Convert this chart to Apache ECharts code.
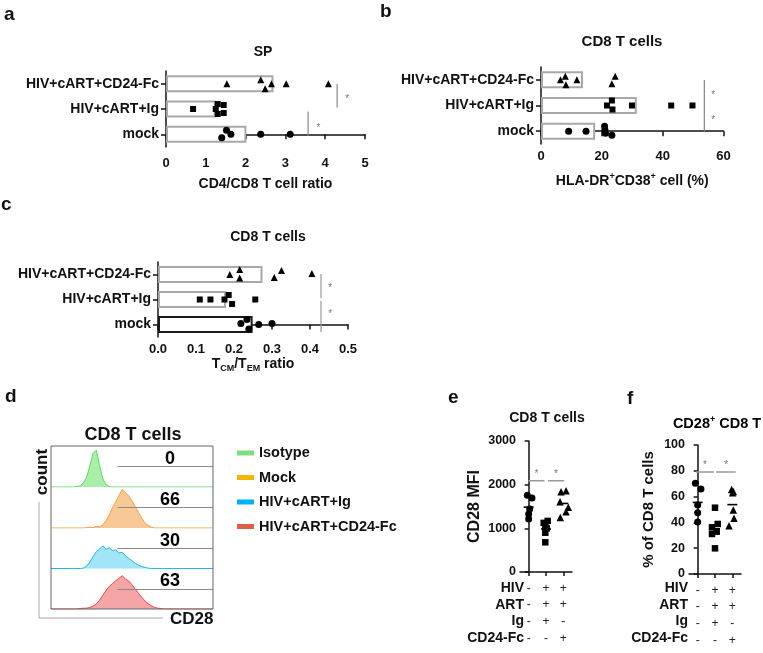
<!DOCTYPE html>
<html><head><meta charset="utf-8">
<script src="https://cdn.jsdelivr.net/npm/echarts@6/dist/echarts.min.js"></script>
<style>html,body{margin:0;padding:0;background:#fff}#c{width:763px;height:653px}</style>
</head><body><div id="c"></div>
<script>
const FONT = '"Liberation Sans", Arial, Helvetica, sans-serif';

// ================= DATA =================
const groupCats = ['mock', 'HIV+cART+Ig', 'HIV+cART+CD24-Fc']; // bottom -> top

// panel a : CD4/CD8 ratio (SP)
const aBarValues = [2.02, 1.25, 2.70];
const aMock = [1.40, 1.52, 1.63, 2.38, 3.12];
const aIg   = [0.68, 1.25, 1.30, 1.30, 1.45, 1.45];
const aCD24 = [1.53, 2.38, 2.49, 2.65, 3.02, 4.08];

// panel b : HLA-DR+CD38+ (%)
const bBarValues = [17.8, 31.5, 13.8];
const bMock = [9.1, 14.8, 20.9, 21.0, 21.2, 23.3];
const bIg   = [21.7, 23.3, 23.5, 29.9, 42.8, 49.8];
const bCD24 = [6.4, 8.0, 8.2, 11.8, 23.3, 24.4];

// panel c : TCM/TEM ratio
const cBarValues = [0.249, 0.179, 0.275];
const cMock = [0.218, 0.234, 0.239, 0.265, 0.300];
const cIg   = [0.110, 0.138, 0.175, 0.186, 0.195, 0.256];
const cCD24 = [0.189, 0.215, 0.215, 0.306, 0.325, 0.405];

// panel d : CD28 histograms
const histNames = ['Isotype', 'Mock', 'HIV+cART+Ig', 'HIV+cART+CD24-Fc'];
const histBins = [0, 12, 14, 16, 18, 20, 22, 24, 26, 28, 30, 32, 34, 36, 38, 40, 42, 44, 46, 48, 50, 52, 54, 56, 58, 60, 62, 64, 66, 68, 70, 100];
const histIsotype = [0, 0, 0, 1, 3, 10, 24, 52, 82, 90, 52, 20, 6, 1, 0, 0, 0, 0, 0, 0, 0, 0, 0, 0, 0, 0, 0, 0, 0, 0, 0, 0];
const histMock    = [0, 0, 0, 0, 0, 0, 1, 2, 1, 4, 3, 8, 18, 33, 50, 64, 80, 94, 86, 78, 66, 52, 38, 24, 13, 6, 2, 0, 0, 0, 0, 0];
const histIg      = [0, 0, 0, 0, 0, 1, 6, 16, 30, 42, 48, 56, 47, 52, 44, 46, 38, 40, 31, 25, 19, 13, 8, 5, 3, 1, 0, 0, 0, 0, 0, 0];
const histCD24    = [0, 0, 0, 0, 1, 2, 2, 4, 7, 13, 22, 34, 46, 56, 63, 70, 76, 82, 74, 69, 60, 49, 39, 29, 20, 13, 8, 4, 2, 1, 0, 0];
const gatePercent = ['0', '66', '30', '63'];

// panel e / f : columns and treatment table
const tableRowNames = ['HIV', 'ART', 'Ig', 'CD24-Fc'];
const tableSigns = [
  ['-', '+', '+'],
  ['-', '+', '+'],
  ['-', '+', '-'],
  ['-', '-', '+']
];
const eMock = [1756, 1694, 1441, 1326, 1211];
const eIg   = [1170, 1125, 1035, 1000, 900, 680];
const eCD24 = [1839, 1862, 1609, 1480, 1250, 1379];
const fMock = [70.3, 65.9, 53.5, 47.5, 40.3];
const fIg   = [51.4, 38.8, 36.2, 32.8, 31.0, 19.9];
const fCD24 = [65.5, 64.0, 63.0, 49.6, 43.2, 37.4];

// ================= STYLE / LAYOUT =================
const jit = {
  aMock: [3.5, -4, 0, 0, 0], aIg: [0, 0, -5, 5, -4, 4], aCD24: [0, -4, 5, 0, 0, 0],
  bMock: [0, 0, -5, -1.5, 2, 4], bIg: [0, -5, 4, 0, 0, 0], bCD24: [0, -3.5, 5, 0, 4, -3.5],
  cMock: [-1, -5, 4.5, 0, -1], cIg: [0, 0, 0, -4.5, 4.5, 0], cCD24: [0, -5, 3.5, 3, -4, -1],
  eMock: [-1.3, 3.3, 1, 0, 0], eIg: [1.7, -2.3, -0.7, 0.7, -0.7, -0.7], eCD24: [-2.3, 2.7, -3.3, 5, -3, 2.7],
  fMock: [-2.3, 3.3, 0, 0, 0], fIg: [0, 2.7, -3, 1.7, -3, 0], fCD24: [-0.7, 1, 0.3, 1, 1.7, -3.3]
};
const histLine = ['#5fd85f', '#f0a048', '#1cb8ec', '#e44848'];
const histFill = ['#aaeeaa', '#f8c996', '#a2e5f8', '#f5a5a5'];
const legendColor = ['#7ddf7d', '#f2b600', '#00b0f0', '#de5e48'];

const bold = { fontFamily: FONT, fontWeight: 'bold', color: '#111' };
const axisLineS = { show: true, lineStyle: { color: '#111', width: 1.5 } };
const axisTickS = (len) => ({ show: true, length: len, lineStyle: { color: '#111', width: 1.5 } });
const clear = { color: 'rgba(0,0,0,0)', opacity: 1 };

function valX(gi, max, interval, name, nameGap, margin, fmt, rich) {
  return {
    type: 'value', gridIndex: gi, min: 0, max, interval,
    axisLine: axisLineS, axisTick: axisTickS(5), splitLine: { show: false },
    axisLabel: { ...bold, fontSize: 13, margin, formatter: fmt },
    name, nameLocation: 'middle', nameGap,
    nameTextStyle: { ...bold, fontSize: 14, rich }
  };
}
function catY(gi) {
  return {
    type: 'category', gridIndex: gi, data: groupCats,
    axisLine: axisLineS, axisTick: { ...axisTickS(5), alignWithLabel: true },
    axisLabel: { ...bold, fontSize: 14, margin: 7 }
  };
}
function hidden(gi) { return { type: 'value', gridIndex: gi, min: -0.5, max: 2.5, show: false }; }

const series = [];
function barS(xi, yi, vals, dark) {
  series.push({
    type: 'bar', xAxisIndex: xi, yAxisIndex: yi, barWidth: 17, silent: true,
    data: vals.map((v, k) => ({
      value: v,
      itemStyle: (dark && k === 0) ? { color: '#fff', borderColor: '#1a1a1a', borderWidth: 2 }
                                    : { color: '#fff', borderColor: '#a8a8a8', borderWidth: 2 }
    }))
  });
}
function dotsH(xi, yi, vals, cat, symbol, size, j) {
  series.push({
    type: 'scatter', xAxisIndex: xi, yAxisIndex: yi, symbol, symbolSize: size, silent: true,
    itemStyle: { color: '#000', opacity: 1 },
    data: vals.map((v, k) => ({ value: [v, cat], symbolOffset: [0, j[k] || 0] }))
  });
}
function dotsV(xi, yi, vals, cat, symbol, size, j) {
  series.push({
    type: 'scatter', xAxisIndex: xi, yAxisIndex: yi, symbol, symbolSize: size, silent: true,
    itemStyle: { color: '#000', opacity: 1 },
    data: vals.map((v, k) => ({ value: [cat, v], symbolOffset: [j[k] || 0, 0] }))
  });
}
function seg(xi, yi, p1, p2, color, w) {
  series.push({
    type: 'line', xAxisIndex: xi, yAxisIndex: yi, symbol: 'none', silent: true,
    lineStyle: { color, width: w }, data: [p1, p2], z: 1
  });
}
function star(xi, yi, p) {
  series.push({
    type: 'scatter', xAxisIndex: xi, yAxisIndex: yi, symbolSize: 1, silent: true,
    itemStyle: clear,
    label: { show: true, position: 'inside', formatter: '*', fontFamily: FONT, fontSize: 10, color: '#777', offset: [0, 2] },
    data: [p]
  });
}
const mean = (a) => a.reduce((s, v) => s + v, 0) / a.length;

// ---- a ----
barS(0, 0, aBarValues, false);
dotsH(0, 0, aMock, 0, 'circle', 7, jit.aMock);
dotsH(0, 0, aIg, 1, 'rect', 6, jit.aIg);
dotsH(0, 0, aCD24, 2, 'triangle', 7, jit.aCD24);
seg(0, 1, [4.30, 1.99], [4.30, 1.06], '#888', 1.2); star(0, 1, [4.55, 1.45]);
seg(0, 1, [3.57, 0.90], [3.57, -0.07], '#888', 1.2); star(0, 1, [3.83, 0.32]);
// ---- b ----
barS(1, 2, bBarValues, false);
dotsH(1, 2, bMock, 0, 'circle', 7, jit.bMock);
dotsH(1, 2, bIg, 1, 'rect', 6, jit.bIg);
dotsH(1, 2, bCD24, 2, 'triangle', 7, jit.bCD24);
seg(1, 3, [53.7, 1.99], [53.7, 0.0], '#888', 1.2);
star(1, 3, [56.6, 1.49]); star(1, 3, [56.6, 0.51]);
// ---- c ----
barS(2, 4, cBarValues, true);
dotsH(2, 4, cMock, 0, 'circle', 7, jit.cMock);
dotsH(2, 4, cIg, 1, 'rect', 6, jit.cIg);
dotsH(2, 4, cCD24, 2, 'triangle', 7, jit.cCD24);
seg(2, 5, [0.429, 2.02], [0.429, 1.05], '#999', 1.2);
seg(2, 5, [0.429, 0.95], [0.429, -0.3], '#999', 1.2);
star(2, 5, [0.453, 1.54]); star(2, 5, [0.453, 0.50]);
// ---- d ----
const histData = [histIsotype, histMock, histIg, histCD24];
histData.forEach((h, i) => {
  series.push({
    name: histNames[i], type: 'line', xAxisIndex: 3 + i, yAxisIndex: 6 + i,
    symbol: 'none', silent: true,
    itemStyle: { color: legendColor[i] },
    lineStyle: { color: histLine[i], width: 1 },
    areaStyle: { color: histFill[i], opacity: 1 },
    data: histBins.map((x, k) => [x, h[k]]),
    markLine: {
      silent: true, symbol: 'none', animation: false,
      lineStyle: { color: '#8a8a8a', width: 1, type: 'solid' },
      label: { show: false },
      data: [[{ coord: [41, 50] }, { coord: [100, 50] }]]
    }
  });
  series.push({
    type: 'scatter', xAxisIndex: 3 + i, yAxisIndex: 6 + i, symbolSize: 1, silent: true,
    itemStyle: clear,
    label: { show: true, position: 'top', distance: -2, formatter: gatePercent[i], ...bold, color: '#000', fontSize: 18 },
    data: [[73.5, 50]]
  });
});
// ---- e ----
dotsV(7, 10, eMock, 0, 'circle', 7, jit.eMock);
dotsV(7, 10, eIg, 1, 'rect', 6.5, jit.eIg);
dotsV(7, 10, eCD24, 2, 'triangle', 7.5, jit.eCD24);
series.push({ type: 'scatter', xAxisIndex: 7, yAxisIndex: 10, symbol: 'rect', symbolSize: [10, 1.6], silent: true,
  itemStyle: { color: '#000', opacity: 1 }, data: [[0, mean(eMock)], [1, mean(eIg)], [2, mean(eCD24)]] });
seg(8, 10, [-0.02, 2092], [0.91, 2092], '#9a9a9a', 1.5);
seg(8, 10, [1.11, 2092], [2.05, 2092], '#9a9a9a', 1.5);
star(8, 10, [0.45, 2290]); star(8, 10, [1.57, 2290]);
// ---- f ----
dotsV(9, 11, fMock, 0, 'circle', 7, jit.fMock);
dotsV(9, 11, fIg, 1, 'rect', 6.5, jit.fIg);
dotsV(9, 11, fCD24, 2, 'triangle', 7.5, jit.fCD24);
series.push({ type: 'scatter', xAxisIndex: 9, yAxisIndex: 11, symbol: 'rect', symbolSize: [10, 1.6], silent: true,
  itemStyle: { color: '#000', opacity: 1 }, data: [[0, mean(fMock)], [1, mean(fIg)], [2, mean(fCD24)]] });
seg(10, 11, [-0.1, 79], [0.93, 79], '#9a9a9a', 1.5);
seg(10, 11, [1.06, 79], [2.19, 79], '#9a9a9a', 1.5);
star(10, 11, [0.42, 86]); star(10, 11, [1.65, 86]);

const colLabels = [0, 1, 2].map(j => tableSigns.map(r => r[j]).join('\n'));
function colAxis(gi) {
  return {
    type: 'category', gridIndex: gi, data: ['0', '1', '2'],
    axisLine: axisLineS, axisTick: { ...axisTickS(4), alignWithLabel: true },
    axisLabel: { fontFamily: FONT, fontSize: 12, color: '#222', lineHeight: 16.7, margin: 8,
      formatter: (v, idx) => colLabels[idx] }
  };
}
function mfiY(gi, max, interval, name, gap, size) {
  return {
    type: 'value', gridIndex: gi, min: 0, max, interval,
    axisLine: axisLineS, axisTick: axisTickS(4), splitLine: { show: false },
    axisLabel: { ...bold, fontSize: 12.5, margin: 4, formatter: v => String(v) },
    name, nameLocation: 'middle', nameGap: gap, nameTextStyle: { ...bold, fontSize: size }
  };
}

const richN = { fontFamily: FONT, fontWeight: 'bold', fontSize: 14, color: '#111', lineHeight: 18 };
const richSup = { fontFamily: FONT, fontWeight: 'bold', fontSize: 9, color: '#111', lineHeight: 10, verticalAlign: 'top' };
const richSub = { fontFamily: FONT, fontWeight: 'bold', fontSize: 9, color: '#111', lineHeight: 10, verticalAlign: 'bottom' };

const xAxes = [
  valX(0, 5, 1, 'CD4/CD8 T cell ratio', 30, 10),
  valX(1, 60, 20, '{n|HLA-DR}{s|+}{n|CD38}{s|+}{n| cell (%)}', 28, 6, null, { n: richN, s: richSup }),
  valX(2, 0.5, 0.1, '{n|T}{b|CM}{n|/T}{b|EM}{n| ratio}', 17, 6, v => v.toFixed(1), { n: richN, b: richSub })
];
for (let i = 0; i < 4; i++) xAxes.push({ type: 'value', gridIndex: 3 + i, min: 0, max: 100, show: false });
xAxes.push(colAxis(7), hidden(7), colAxis(8), hidden(8));

const yAxes = [catY(0), hidden(0), catY(1), hidden(1), catY(2), hidden(2)];
for (let i = 0; i < 4; i++) yAxes.push({ type: 'value', gridIndex: 3 + i, min: 0, max: 100, show: false });
yAxes.push(mfiY(7, 3000, 1000, 'CD28 MFI', 37, 16), mfiY(8, 100, 20, '% of CD8 T cells', 33, 15));

const txt = (text, x, y, size, align, extra) => ({
  type: 'text', x, y, silent: true,
  style: Object.assign({ text, font: 'bold ' + size + 'px ' + FONT, fill: '#111', textAlign: align || 'left', textVerticalAlign: 'middle' }, extra || {})
});
const graphics = [
  txt('a', 4, 15, 19), txt('b', 380, 12, 19), txt('c', 1, 205, 19),
  txt('d', 5, 397, 19), txt('e', 448, 398, 19), txt('f', 627, 399, 19),
  txt('SP', 263, 52, 14, 'center'),
  txt('CD8 T cells', 622, 42, 15, 'center'),
  txt('CD8 T cells', 268, 237, 14, 'center'),
  txt('CD8 T cells', 133, 435, 18, 'center'),
  txt('CD8 T cells', 547, 418, 14, 'center'),
  { type: 'text', x: 717, y: 424, silent: true, style: {
      text: '{n|CD28}{s|+}{n| CD8 T}', textAlign: 'center', textVerticalAlign: 'middle',
      rich: { n: Object.assign({}, richN, { fontSize: 14.5 }), s: richSup } } },
  { type: 'rect', shape: { x: 51, y: 446, width: 162, height: 163 }, silent: true, z: 10,
    style: { fill: 'none', stroke: '#666', lineWidth: 1 } },
  { type: 'line', shape: { x1: 39, y1: 502, x2: 39, y2: 618 }, silent: true, style: { stroke: '#aaa', lineWidth: 1 } },
  { type: 'line', shape: { x1: 39, y1: 618, x2: 163, y2: 618 }, silent: true, style: { stroke: '#aaa', lineWidth: 1 } },
  txt('count', 42, 472, 17, 'center'),
  txt('CD28', 170, 619, 17, 'left')
];
graphics[graphics.length - 2].rotation = Math.PI / 2;
tableRowNames.forEach((r, k) => {
  graphics.push(txt(r, 524, 588 + k * 16.7, 14, 'right'));
  graphics.push(txt(r, 688, 588 + k * 16.7, 14, 'right'));
});

const option = {
  animation: false,
  grid: [
    { left: 166, top: 71, width: 199, height: 76 },
    { left: 541, top: 67, width: 182.5, height: 77 },
    { left: 158, top: 262, width: 190, height: 75 },
    { left: 51, top: 446, width: 162, height: 41 },
    { left: 51, top: 487, width: 162, height: 41 },
    { left: 51, top: 528, width: 162, height: 40.5 },
    { left: 51, top: 568.5, width: 162, height: 40.5 },
    { left: 520, top: 441, width: 52, height: 131 },
    { left: 689, top: 445, width: 52, height: 129 }
  ],
  xAxis: xAxes,
  yAxis: yAxes,
  legend: {
    orient: 'vertical', left: 232, top: 440, itemWidth: 17, itemHeight: 5, itemGap: 8.5,
    icon: 'rect', selectedMode: false, data: histNames,
    textStyle: { ...bold, fontSize: 14.5, lineHeight: 16 }
  },
  series,
  graphic: { elements: graphics }
};
const chart = echarts.init(document.getElementById('c'), null, { renderer: 'canvas' });
chart.setOption(option);
</script></body></html>
